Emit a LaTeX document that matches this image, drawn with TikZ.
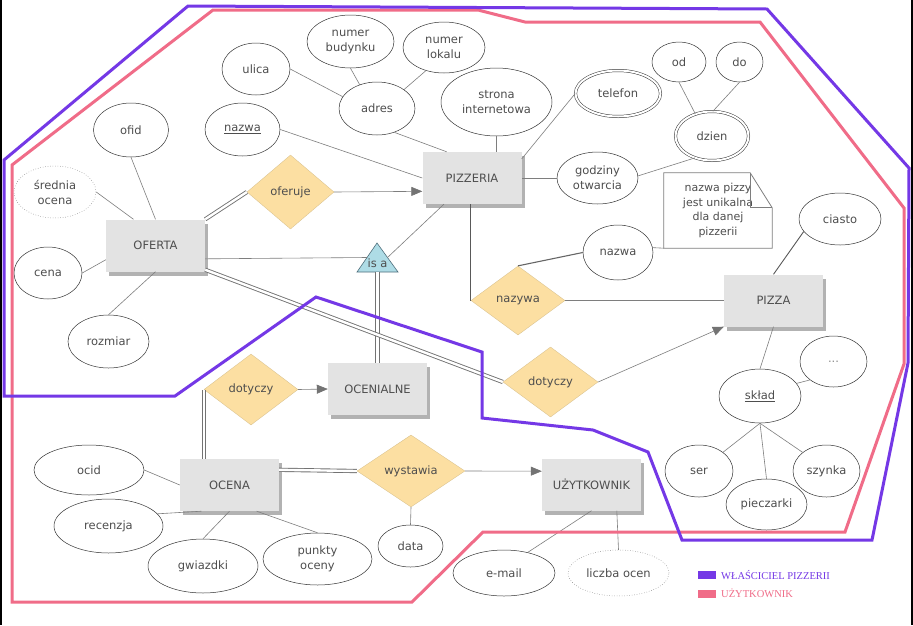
\documentclass[tikz,border=0pt]{standalone}
\usepackage{fontspec}
\setmainfont{DejaVu Sans}
\newfontfamily\legendfont{Liberation Serif}
\usetikzlibrary{shapes.geometric,arrows.meta,calc,shadows}
\definecolor{purp}{HTML}{7438E6}
\definecolor{pinkc}{HTML}{F06C88}
\definecolor{entfill}{HTML}{E3E3E3}
\definecolor{relfill}{HTML}{FCDFA2}
\definecolor{linec}{HTML}{7E7E7E}
\definecolor{txt}{HTML}{4E4E4E}
\definecolor{isafill}{HTML}{AEDCE6}
\definecolor{isadraw}{HTML}{4F6F7C}
\begin{document}
\begin{tikzpicture}[x=1pt,y=-1pt,
  every node/.style={font=\fontsize{11.5}{15}\selectfont, text=txt, align=center},
  entity/.style={rectangle, fill=entfill, inner sep=0pt, minimum width=99pt, minimum height=52pt,
    drop shadow={shadow xshift=3pt, shadow yshift=-4pt, fill=black, opacity=0.3}},
  rel/.style={diamond, fill=relfill, draw=relfill!85!black, line width=0.3pt, inner sep=0pt},
  attr/.style={ellipse, draw=black!80, line width=0.5pt, fill=white, inner sep=0pt},
  dattr/.style={attr, draw=black!55, dotted},
  mattr/.style={attr, double, double distance=2pt},
  conn/.style={draw=linec, line width=0.6pt},
  dbl/.style={draw=black!55, line width=0.9pt, double=white, double distance=2.4pt},
  arr/.style={conn, -{Triangle[length=11pt,width=9pt,color=black!55]}},
  outl/.style={line width=3pt, line join=miter},
]
\useasboundingbox (0,0) rectangle (913,625);
\fill[white] (0,0) rectangle (913,625);

% ---------- entities ----------
\node[entity] (pizzeria) at (472,178) {PIZZERIA};
\node[entity] (oferta) at (155.5,245.5) {OFERTA};
\node[entity] (pizza) at (773.5,300.5) {PIZZA};
\node[entity] (ocenialne) at (377.5,389) {OCENIALNE};
\node[entity] (ocena) at (229.5,485) {OCENA};
\node[entity] (uzytkownik) at (591.5,484.5) {UŻYTKOWNIK};

% ---------- relationships ----------
\node[rel, minimum width=87pt, minimum height=74pt] (oferuje) at (290.5,192) {oferuje};
\node[rel, minimum width=94pt, minimum height=69pt] (nazywa) at (518,300.5) {nazywa};
\node[rel, minimum width=95pt, minimum height=70pt] (dotyczyR) at (550.5,382) {dotyczy};
\node[rel, minimum width=94pt, minimum height=71pt] (dotyczyL) at (251,389.5) {dotyczy};
\node[rel, minimum width=108pt, minimum height=72pt] (wystawia) at (411,471) {wystawia};

% ---------- is a ----------
\coordinate (isaA) at (377,243);
\coordinate (isaL) at (357,272);
\coordinate (isaR) at (398,272);
\draw[fill=isafill, draw=isadraw, line width=0.6pt] (isaA) -- (isaL) -- (isaR) -- cycle;
\node[inner sep=0pt] (isa) at (377.5,263) {is a};

% ---------- attributes ----------
\node[attr, minimum width=68pt, minimum height=52pt] (ulica) at (256,69) {ulica};
\node[attr, minimum width=75pt, minimum height=54pt] (ofid) at (131,130) {ofid};
\node[attr, minimum width=75pt, minimum height=53pt] (nazwaP) at (242.5,129.5) {\underline{nazwa}};
\node[dattr, minimum width=82pt, minimum height=52pt] (srednia) at (55,192) {średnia\\ocena};
\node[attr, minimum width=87pt, minimum height=53pt] (numbud) at (350.5,41.5) {numer\\budynku};
\node[attr, minimum width=82pt, minimum height=51pt] (numlok) at (444,47.5) {numer\\lokalu};
\node[attr, minimum width=76pt, minimum height=53pt] (adres) at (377,108.5) {adres};
\node[attr, minimum width=111pt, minimum height=68pt] (strona) at (496.5,102) {strona\\internetowa};
\node[attr, minimum width=81pt, minimum height=52pt] (godziny) at (597.5,178) {godziny\\otwarcia};
\node[mattr, minimum width=85pt, minimum height=46pt] (telefon) at (618,93.5) {telefon};
\node[attr, minimum width=54pt, minimum height=40pt] (od) at (679,62) {od};
\node[attr, minimum width=47pt, minimum height=40pt] (do) at (739.5,62) {do};
\node[mattr, minimum width=73pt, minimum height=49pt] (dzien) at (712,136) {dzien};
\node[attr, minimum width=70pt, minimum height=55pt] (nazwaZ) at (618,252.5) {nazwa};
\node[attr, minimum width=82pt, minimum height=52pt] (ciasto) at (840,219) {ciasto};
\node[attr, minimum width=68pt, minimum height=52pt] (cena) at (48,273) {cena};
\node[attr, minimum width=81pt, minimum height=53pt] (rozmiar) at (108.5,341.5) {rozmiar};
\node[attr, minimum width=67pt, minimum height=51pt] (dots) at (833.5,361.5) {\textcolor{black!45}{...}};
\node[attr, minimum width=82pt, minimum height=54pt] (sklad) at (760,396) {\underline{skład}};
\node[attr, minimum width=68pt, minimum height=52pt] (ser) at (699,471) {ser};
\node[attr, minimum width=67pt, minimum height=52pt] (szynka) at (826.5,471) {szynka};
\node[attr, minimum width=81pt, minimum height=51pt] (pieczarki) at (766.5,504.5) {pieczarki};
\node[attr, minimum width=110pt, minimum height=50pt] (ocid) at (89,470) {ocid};
\node[attr, minimum width=109pt, minimum height=54pt] (recenzja) at (108.5,526) {recenzja};
\node[attr, minimum width=110pt, minimum height=54pt] (gwiazdki) at (203,566) {gwiazdki};
\node[attr, minimum width=109pt, minimum height=52pt] (punkty) at (317.5,559) {punkty\\oceny};
\node[attr, minimum width=65pt, minimum height=42pt] (data) at (410.5,546) {data};
\node[attr, minimum width=102pt, minimum height=46pt] (email) at (504,573) {e-mail};
\node[dattr, minimum width=101pt, minimum height=46pt] (liczba) at (618.5,573) {liczba ocen};

% ---------- note ----------
\node[font=\fontsize{11}{14.5}\selectfont, minimum width=108pt, minimum height=75pt, inner sep=0pt] (note) at (718,210.5) {nazwa pizzy\\jest unikalna\\dla danej\\pizzerii};
\draw[draw=linec, line width=0.8pt] (note.north west) -- ($(note.north east)+(-22,0)$) -- ($(note.north east)+(0,35)$) -- (note.south east) -- (note.south west) -- cycle;
\draw[draw=linec, line width=0.8pt] ($(note.north east)+(-22,0)$) -- ($(note.north east)+(-22,35)$) -- ($(note.north east)+(0,35)$);

% ---------- connectors ----------
\draw[conn] (ulica.east) -- (adres.161);
\draw[conn] (numbud.south) -- (adres.126);
\draw[conn] (numlok.232) -- (adres.35);
\draw[conn] (adres.-54) -- (pizzeria.134);
\draw[conn] (strona.south) -- (strona.south |- pizzeria.north);
\draw[conn] (nazwaP.east) -- (pizzeria.west);
\draw[conn] (telefon.west) -- (pizzeria.21);
\draw[conn] (godziny.west) -- (pizzeria.east);
\draw[conn] (od.south) -- (dzien.127);
\draw[conn] (do.south) -- (dzien.88);
\draw[conn] (dzien.232) -- (godziny.3);
\draw[arr] (oferuje.east) -- (pizzeria.195);
\draw[dbl] (oferta.north east) -- (oferuje.west);
\draw[conn] (ofid.south) -- (oferta.north);
\draw[conn] (srednia.east) -- (oferta.130);
\draw[conn] (cena.east) -- (oferta.196);
\draw[conn] (rozmiar.north) -- (oferta.south);
\draw[conn] (oferta.-15) -- ($(isaA)!0.5!(isaL)$);
\draw[conn] ($(isaA)!0.5!(isaR)$) -- (pizzeria.223);
\draw[dbl] ($(isaL)!0.5!(isaR)$) -- (ocenialne.north);
\draw[dbl] (oferta.-26) -- (dotyczyR.west);
\draw[arr] (dotyczyR.east) -- (pizza.south west);
\draw[conn, draw=black!65, line width=0.9pt] (nazywa.west |- pizzeria.south) -- (nazywa.west);
\draw[conn, draw=black!60, line width=1.1pt] (nazywa.north) -- (nazwaZ.west);
\draw[conn] (nazywa.east) -- (pizza.west);
\draw[conn] (nazwaZ.8) -- (note.south west);
\draw[conn, draw=black!65, line width=0.9pt] (ciasto.199) -- (pizza.north);
\draw[conn] (pizza.south) -- (sklad.north);
\draw[conn] (sklad.19) -- (dots.218);
\draw[conn] (sklad.south) -- (ser.38);
\draw[conn] (sklad.south) -- (pieczarki.north);
\draw[conn] (sklad.south) -- (szynka.142);
\draw[arr] (dotyczyL.east) -- (ocenialne.west);
\draw[dbl] (dotyczyL.west) -- (dotyczyL.west |- ocena.north);
\draw[dbl] (ocena.17) -- (wystawia.west);
\draw[arr] (wystawia.east) -- (uzytkownik.165);
\draw[conn] (wystawia.south) -- (data.north);
\draw[conn] (ocid.east) -- (ocena.west);
\draw[conn] (recenzja.14) -- (ocena.223);
\draw[conn] (gwiazdki.north) -- (ocena.south);
\draw[conn] (punkty.north) -- (ocena.-44);
\draw[conn] (email.41) -- (uzytkownik.south);
\draw[conn] (uzytkownik.-46) -- (liczba.north);

% ---------- area outlines ----------
\draw[outl, draw=pinkc] (12,165) -- (213,10) -- (478,10) -- (525,22) -- (760,22) -- (904,208) -- (904,364) -- (845,532) -- (483,532) -- (412,602) -- (12,602) -- cycle;
\draw[outl, draw=purp] (4,160) -- (188,6) -- (767,9) -- (909,168) -- (908,363) -- (872,540) -- (682,540) -- (648,452) -- (593,430) -- (482,418) -- (482,352) -- (316,297) -- (175,396) -- (4,396) -- cycle;

% ---------- frame edges ----------
\draw[black, line width=1.5pt] (1,0) -- (1,625);
\draw[black, line width=1.5pt] (912,0) -- (912,625);

% ---------- legend ----------
\node[fill=purp, minimum width=18pt, minimum height=8pt, inner sep=0pt] (legP) at (707,575) {};
\node[anchor=west, text=purp, font=\legendfont\fontsize{10.5}{12}\selectfont, inner sep=0pt] (legPt) at (721,575.5) {WŁAŚCICIEL PIZZERII};
\node[fill=pinkc, minimum width=18pt, minimum height=8pt, inner sep=0pt] (legU) at (707,593.5) {};
\node[anchor=west, text=pinkc, font=\legendfont\fontsize{10.5}{12}\selectfont, inner sep=0pt] (legUt) at (721,593.5) {UŻYTKOWNIK};
\end{tikzpicture}
\end{document}
